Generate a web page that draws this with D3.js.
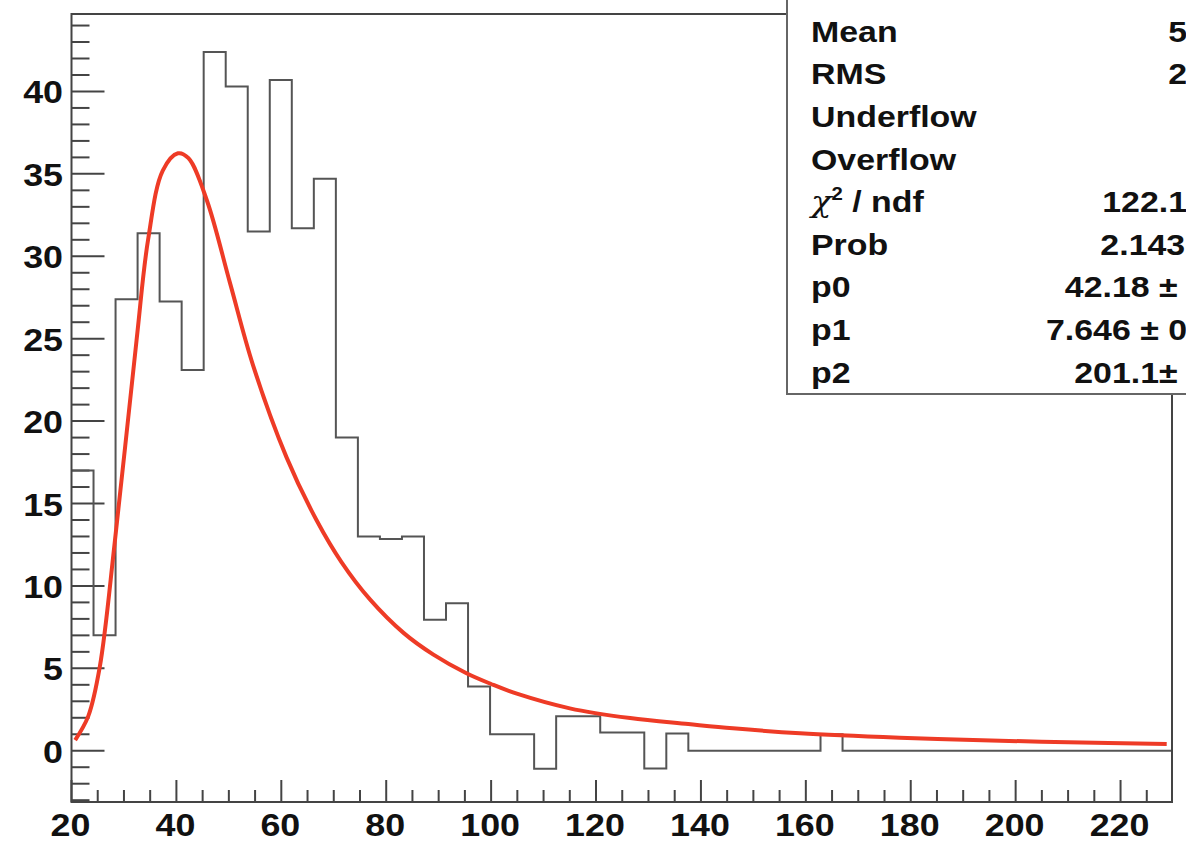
<!DOCTYPE html>
<html>
<head>
<meta charset="utf-8">
<script src="https://cdn.jsdelivr.net/npm/d3@7"></script>
<style>
  body { margin: 0; background: #fff; }
  text { font-family: "Liberation Sans", Arial, sans-serif; font-weight: bold; fill: #111; }
</style>
</head>
<body>
<div id="chart-container"></div>
<script>
// histogram + fitted curve, ROOT style
const svgWidth = 1186;
const svgHeight = 842;

// histogram: 50 bins from 20 to 230
const binStart = 20;
const binWidth = 4.2;
const counts = [17, 7, 27.4, 31.4, 27.25, 23.1, 42.4, 40.3, 31.5, 40.7,
    31.7, 34.7, 19.0, 13.0, 12.85, 13.0, 7.95, 8.95, 3.9, 1.0,
    1.0, -1.1, 2.1, 2.1, 1.1, 1.1, -1.07, 1.05, 0, 0,
    0, 0, 0, 0, 1.0, 0, 0, 0, 0, 0,
    0, 0, 0, 0, 0, 0, 0, 0, 0, 0];

// fit curve
const fitX = [20.7, 23.2, 25.4, 28.3, 32.4, 34.6, 37.4, 40.3, 42.3, 45.8, 50.2, 54.6, 61.0, 66.7,
    71.5, 76.9, 83.3, 89.0, 95.3, 100.0, 104.9, 115.0, 126.5, 137.6, 146.1, 158.9, 177.9, 191.9, 210.0, 228.8];
const fitY = [0.65, 2.1, 5.1, 12.8, 24.9, 31.0, 35.2, 36.25, 35.95, 33.4, 28.4, 23.4, 17.8, 14.0,
    11.43, 9.18, 7.15, 5.83, 4.7, 4.05, 3.46, 2.57, 1.98, 1.62, 1.36, 1.06, 0.79, 0.65, 0.51, 0.41];

const xTicks = [20, 40, 60, 80, 100, 120, 140, 160, 180, 200, 220];
const yTicks = [0, 5, 10, 15, 20, 25, 30, 35, 40];

// stats box
const statLabels = ["Entries", "Mean", "RMS", "Underflow", "Overflow", "chi", "Prob", "p0", "p1", "p2"];
const statValues = ["500", "59.28", "29.41", "0", "0", "122.1 / 47", "2.143e-08",
    "42.18 \u00b1 1.21", "7.646 \u00b1 0.141", "201.1\u00b1 12.3"];

const svg = d3.select("#chart-container")
    .append("svg")
    .attr("width", svgWidth)
    .attr("height", svgHeight);

const x = d3.scaleLinear().domain([20, 230]).range([71.5, 1173]);
const y = d3.scaleLinear().domain([-3.11, 44.7]).range([802, 14]);

const frameColor = "#444";

// minor / major ticks on y
svg.append("g").selectAll("line")
    .data(d3.range(-3, 45))
    .enter().append("line")
    .attr("x1", x(20))
    .attr("x2", d => x(20) + (d % 5 === 0 ? 33 : 18))
    .attr("y1", d => y(d))
    .attr("y2", d => y(d))
    .attr("stroke", frameColor)
    .attr("stroke-width", 2);

// ticks on x
svg.append("g").selectAll("line")
    .data(d3.range(20, 230, 5))
    .enter().append("line")
    .attr("x1", d => x(d))
    .attr("x2", d => x(d))
    .attr("y1", y.range()[0])
    .attr("y2", d => y.range()[0] - (d % 20 === 0 ? 22 : 12))
    .attr("stroke", frameColor)
    .attr("stroke-width", 2);

// tick labels, slightly wide like the original
svg.append("g").selectAll("text")
    .data(yTicks)
    .enter().append("text")
    .attr("text-anchor", "end")
    .attr("font-size", 32)
    .attr("transform", d => `translate(63, ${y(d) + 12}) scale(1.12,1)`)
    .text(d => d);

svg.append("g").selectAll("text")
    .data(xTicks)
    .enter().append("text")
    .attr("text-anchor", "middle")
    .attr("font-size", 32)
    .attr("transform", d => `translate(${x(d) - 1}, 836) scale(1.12,1)`)
    .text(d => d);

// histogram outline
const histPts = counts.map((c, i) => [binStart + i * binWidth, c]);
histPts.push([binStart + counts.length * binWidth, counts[counts.length - 1]]);

svg.append("path")
    .datum(histPts)
    .attr("fill", "none")
    .attr("stroke", "#555")
    .attr("stroke-width", 2)
    .attr("d", d3.line().x(d => x(d[0])).y(d => y(d[1])).curve(d3.curveStepAfter));

// fit curve
svg.append("path")
    .datum(d3.zip(fitX, fitY))
    .attr("fill", "none")
    .attr("stroke", "#ee3b26")
    .attr("stroke-width", 4)
    .attr("stroke-linejoin", "round")
    .attr("d", d3.line().x(d => x(d[0])).y(d => y(d[1])).curve(d3.curveCatmullRom.alpha(0.5)));

// frame
svg.append("rect")
    .attr("x", x(20))
    .attr("y", y.range()[1])
    .attr("width", x(230) - x(20) - 1)
    .attr("height", y.range()[0] - y.range()[1])
    .attr("fill", "none")
    .attr("stroke", frameColor)
    .attr("stroke-width", 2);

// stats box (runs off the top and right of the picture)
const box = svg.append("g");
box.append("rect")
    .attr("x", 787)
    .attr("y", -30)
    .attr("width", 500)
    .attr("height", 424)
    .attr("fill", "#fff")
    .attr("stroke", "#666")
    .attr("stroke-width", 2);

const rows = box.selectAll(".row")
    .data(d3.zip(statLabels, statValues))
    .enter().append("g")
    .attr("class", "row");

rows.append("text")
    .attr("font-size", 30)
    .attr("transform", (d, i) => `translate(811, ${41.7 + (i - 1) * 42.6}) scale(1.13,1)`)
    .each(function (d) {
        const t = d3.select(this);
        if (d[0] === "chi") {
            t.append("tspan").attr("font-weight", "normal").attr("font-family", "DejaVu Serif, serif").attr("font-style", "italic").text("\u03c7");
            t.append("tspan").attr("font-size", 18).attr("dy", -12).text("2");
            t.append("tspan").attr("dy", 12).text(" / ndf");
        } else {
            t.text(d[0]);
        }
    });

rows.append("text")
    .attr("font-size", 30)
    .attr("text-anchor", "end")
    .attr("transform", (d, i) => `translate(1253, ${41.7 + (i - 1) * 42.6}) scale(1.13,1)`)
    .text(d => d[1]);
</script>
</body>
</html>
